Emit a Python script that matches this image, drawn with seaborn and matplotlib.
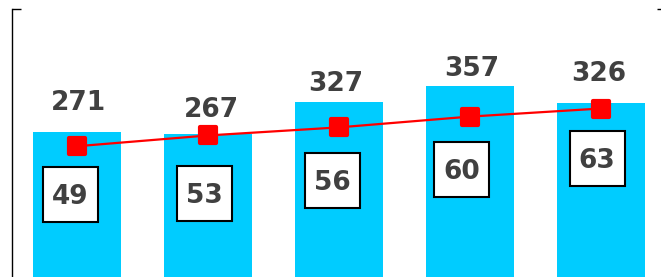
import numpy as np
import pandas as pd
import matplotlib
matplotlib.use("Agg")
import matplotlib.pyplot as plt
import seaborn as sns
from matplotlib.markers import MarkerStyle
from matplotlib.path import Path

# ---- data ----
categories = ["FY2019", "FY2020", "FY2021", "FY2022", "FY2023"]
bar_values = [271, 267, 327, 357, 326]
line_values = [49, 53, 56, 60, 63]

# ---- label layout (pixel offsets) ----
bar_label_dx = [1, 3, -3.5, 2, -2]
bar_label_dy = [22, 17, 11, 10, 22]
box_label_dx = [-7, -3.5, -7, -8, -3.5]
box_label_dy = [-57.6, -67.6, -62.6, -62.6, -59.6]

sns.set_style("white")
plt.rcParams["font.family"] = ["DejaVu Sans"]

W, H = 661, 277
fig = plt.figure(figsize=(W / 100, H / 100), dpi=100)
ax = fig.add_axes([12 / W, -1 / H, 654 / W, 269 / H])

df = pd.DataFrame({"cat": categories, "bar": bar_values, "line": line_values})
sns.barplot(data=df, x="cat", y="bar", color="#00CCFF", saturation=1,
            width=0.673, linewidth=0, ax=ax)
ax.set_xlim(-0.5, 4.5)
ax.set_ylim(0, 500)

ax2 = ax.twinx()
sns.lineplot(x=np.arange(len(categories)), y=line_values, ax=ax2,
             color="red", linewidth=1.6)
ln = ax2.lines[0]
ln.set_marker(MarkerStyle("s", joinstyle="round"))
ln.set_markersize(11)
ln.set_markeredgewidth(3)
ln.set_markeredgecolor("red")
ln.set_markerfacecolor("red")
ax2.set_ylim(0, 100)
ax2.set_xlim(-0.5, 4.5)

# spines & ticks
for s in ["top", "bottom", "right"]:
    ax.spines[s].set_visible(False)
ax.spines["left"].set_color("black")
ax.spines["left"].set_linewidth(1.0)
for s in ["top", "bottom", "left"]:
    ax2.spines[s].set_visible(False)
ax2.spines["right"].set_color("black")
ax2.spines["right"].set_linewidth(1.0)

ax.set_yticks([0, 500])
ax.tick_params(axis="y", direction="in", length=6.5, width=1.0, color="black",
               left=True, labelleft=False)
ax.set_xticks([])
ax.set_xlabel("")
ax.set_ylabel("")
ax2.set_yticks([0, 100])
ax2.tick_params(axis="y", direction="in", length=6.5, width=1.0, color="black",
                right=True, labelright=False)
ax2.set_xticks([])
ax2.set_ylabel("")

TXT = "#404040"
for i, v in enumerate(bar_values):
    ax.annotate(str(v), xy=(i, v), xytext=(bar_label_dx[i], bar_label_dy[i]),
                textcoords="offset pixels", ha="center", va="baseline",
                fontsize=19, fontweight="bold", color=TXT)

BOX = 55


def fixed_box(x0, y0, width, height, mutation_size):
    cx = x0 + width / 2
    cy = y0 + 0.6 * height
    h = BOX / 2
    return Path([(cx - h, cy - h), (cx + h, cy - h), (cx + h, cy + h),
                 (cx - h, cy + h), (cx - h, cy - h)], closed=True)


for i, v in enumerate(line_values):
    ax2.annotate(str(v), xy=(i, v), xytext=(box_label_dx[i], box_label_dy[i]),
                 textcoords="offset pixels", ha="center", va="baseline",
                 fontsize=19, fontweight="bold", color=TXT,
                 bbox=dict(boxstyle=fixed_box, fc="white", ec="black", lw=1.5))

fig.savefig("out.png", dpi=100)
